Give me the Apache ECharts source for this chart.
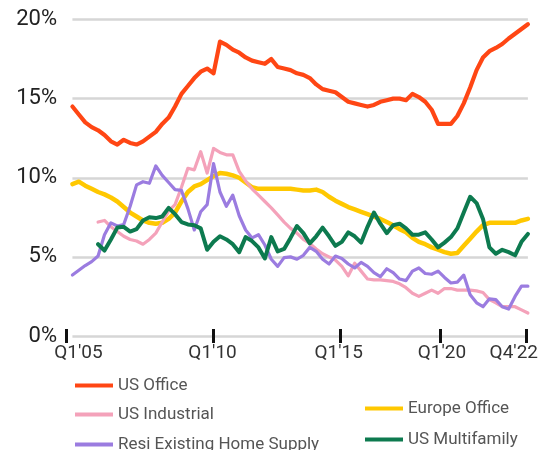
<!DOCTYPE html>
<html>
<head>
<meta charset="utf-8">
<script src="https://cdn.jsdelivr.net/npm/echarts@6/dist/echarts.min.js"></script>
<style>
  html, body { margin: 0; padding: 0; background: #fff; }
  #chart { width: 541px; height: 450px; }
</style>
</head>
<body>
<div id="chart"></div>
<script>
// Quarterly vacancy / supply rates, Q1'05 .. Q4'22 (index 0 .. 71), in %
const usOffice = [14.5,14.0,13.5,13.2,13.0,12.7,12.3,12.1,12.4,12.2,
  12.1,12.3,12.6,12.9,13.4,13.8,14.5,15.3,15.8,16.3,
  16.7,16.9,16.6,18.6,18.4,18.1,17.9,17.6,17.4,17.3,
  17.2,17.5,17.0,16.9,16.8,16.6,16.5,16.3,15.9,15.6,
  15.5,15.4,15.1,14.8,14.7,14.6,14.5,14.6,14.8,14.9,
  15.0,15.0,14.9,15.3,15.1,14.8,14.3,13.4,13.4,13.4,
  13.9,14.7,15.7,16.8,17.6,18.0,18.2,18.45,18.8,19.1,
  19.4,19.7];

const europeOffice = [9.6,9.75,9.5,9.3,9.1,8.95,8.75,8.5,8.15,7.8,
  7.55,7.3,7.15,7.1,7.15,7.4,7.8,8.5,9.1,9.45,
  9.6,9.85,10.1,10.3,10.25,10.15,10.0,9.7,9.4,9.3,
  9.3,9.3,9.3,9.3,9.3,9.25,9.2,9.2,9.25,9.1,
  8.8,8.55,8.35,8.15,8.0,7.85,7.7,7.55,7.4,7.2,
  7.0,6.75,6.55,6.2,5.95,5.8,5.6,5.45,5.3,5.2,
  5.25,5.7,6.15,6.6,7.0,7.15,7.15,7.15,7.15,7.15,
  7.3,7.4];

const usIndustrial = [null,null,null,null,7.2,7.3,6.9,6.6,6.3,6.1,
  6.0,5.8,6.1,6.5,7.2,7.9,8.3,9.4,10.6,10.5,
  11.65,10.3,11.85,11.6,11.45,11.45,10.4,9.8,9.3,8.9,
  8.5,8.1,7.65,7.2,6.8,6.5,6.1,5.85,5.5,5.2,
  5.0,4.8,4.4,3.8,4.6,4.1,3.6,3.55,3.55,3.5,
  3.45,3.3,3.05,2.7,2.5,2.7,2.9,2.7,3.0,3.0,
  2.9,2.9,2.9,2.85,2.75,2.3,2.1,1.85,1.85,1.85,
  1.65,1.45];

const resiSupply = [3.85,4.15,4.45,4.7,5.05,6.4,7.15,6.95,7.05,8.2,
  9.55,9.75,9.65,10.75,10.15,9.7,9.25,9.2,8.05,6.7,
  7.85,8.3,10.9,9.1,8.2,8.9,7.6,6.7,6.2,6.4,
  5.75,4.85,4.4,4.95,5.0,4.85,5.1,5.6,5.35,4.85,
  4.55,5.05,4.9,4.55,4.3,4.65,4.4,4.0,3.75,4.25,
  4.0,3.6,3.5,4.1,4.3,3.95,3.9,4.1,3.7,3.35,
  3.4,3.85,2.6,2.1,1.85,2.35,2.3,1.85,1.7,2.5,
  3.15,3.15];

const usMultifamily = [null,null,null,null,5.8,5.4,6.1,6.85,6.9,6.6,
  6.75,7.3,7.5,7.45,7.55,8.1,7.7,7.2,7.05,7.0,
  6.8,5.45,5.95,6.3,6.1,5.8,5.3,6.25,6.0,5.6,
  4.9,6.25,5.35,5.5,6.2,6.95,6.5,5.85,6.3,6.85,
  6.3,5.7,5.95,6.55,6.3,5.9,6.9,7.8,7.1,6.5,
  7.0,7.1,6.8,6.4,6.4,6.55,6.1,5.6,5.9,6.25,
  6.8,7.8,8.8,8.4,7.4,5.6,5.2,5.45,5.3,5.1,
  5.95,6.45];

// Axis annotations (positions in quarter-index units)
const tickLabels = ["Q1'05", "Q1'10", "Q1'15", "Q1'20", "Q4'22"];
const tickAt = [-1, 22, 41.8, 57.4, 70.7];
const labelAt = [0.94, 21.84, 41.5, 57.6, 68.8];
const yTicks = [0, 5, 10, 15, 20];

const FONT = 'Roboto';
const lastIndex = usOffice.length - 1;

function toPairs(arr) {
  const out = [];
  arr.forEach((v, i) => { if (v !== null) out.push([i, v]); });
  return out;
}

const seriesDefs = [
  { name: 'Europe Office', data: europeOffice, color: '#FFC800', width: 4.5 },
  { name: 'US Industrial', data: usIndustrial, color: '#F4A2BA', width: 3.2 },
  { name: 'Resi Existing Home Supply', data: resiSupply, color: '#9B7CE0', width: 3.2 },
  { name: 'US Multifamily', data: usMultifamily, color: '#0D7A4F', width: 4 },
  { name: 'US Office', data: usOffice, color: '#FF4614', width: 4.2 }
];

const series = [
  {
    // horizontal reference lines spanning the data range
    type: 'line',
    data: [[0, 0]],
    showSymbol: false,
    silent: true,
    lineStyle: { opacity: 0 },
    z: 1,
    markLine: {
      z: 1,
      silent: true,
      symbol: 'none',
      animation: false,
      label: { show: false },
      lineStyle: { color: '#d6d6d6', width: 2.5, type: 'solid' },
      data: yTicks.map(v => [{ coord: [0, v] }, { coord: [lastIndex, v] }])
    }
  }
].concat(seriesDefs.map(s => ({
  name: s.name,
  type: 'line',
  data: toPairs(s.data),
  showSymbol: false,
  symbol: 'none',
  z: 3,
  color: s.color,
  lineStyle: { color: s.color, width: s.width, join: 'round', cap: 'round' }
})));

function legendAt(name, left, top) {
  return {
    data: [name],
    left: left,
    top: top,
    icon: 'rect',
    itemWidth: 38,
    itemHeight: 4,
    itemGap: 0,
    selectedMode: false,
    textStyle: { fontFamily: FONT, fontSize: 17, color: '#555' }
  };
}

const chart = echarts.init(document.getElementById('chart'), null, { renderer: 'canvas' });
chart.setOption({
  animation: false,
  backgroundColor: '#fff',
  grid: { left: 66, right: 10, top: 19.5, bottom: 114 },
  legend: [
    legendAt('US Office', 70, 372),
    legendAt('US Industrial', 70, 401),
    legendAt('Resi Existing Home Supply', 70, 431),
    legendAt('Europe Office', 360, 395),
    legendAt('US Multifamily', 360, 426)
  ],
  xAxis: {
    type: 'value',
    min: -1,
    max: lastIndex,
    offset: -7,
    z: 10,
    axisLine: { show: false },
    splitLine: { show: false },
    axisTick: {
      show: true,
      customValues: tickAt,
      length: 14,
      lineStyle: { color: '#111', width: 3 }
    },
    axisLabel: {
      customValues: labelAt,
      margin: 15,
      fontFamily: FONT,
      fontSize: 19,
      color: '#333',
      formatter: v => {
        const k = labelAt.findIndex(p => Math.abs(p - v) < 1e-6);
        return k >= 0 ? tickLabels[k] : '';
      }
    }
  },
  yAxis: {
    type: 'value',
    min: 0,
    max: 20,
    interval: 5,
    axisLine: { show: false },
    axisTick: { show: false },
    splitLine: { show: false },
    axisLabel: {
      margin: 9,
      fontFamily: FONT,
      fontSize: 22,
      color: '#222',
      formatter: '{value}%'
    }
  },
  series: series
});
</script>
</body>
</html>
